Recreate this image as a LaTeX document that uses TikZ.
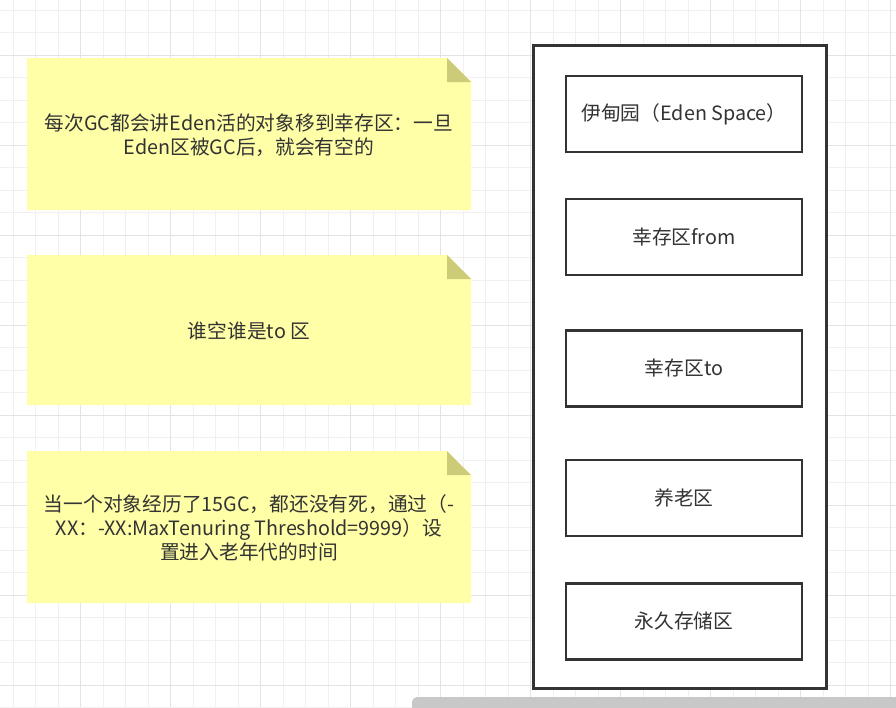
\documentclass[tikz,border=0pt]{standalone}
\usepackage{fontspec}
\newfontfamily\cjk{Noto Sans CJK SC}
\usetikzlibrary{positioning}

\definecolor{notefill}{HTML}{FFFFA8}
\definecolor{notefold}{HTML}{CCCC78}
\definecolor{gridminor}{HTML}{F0F0F0}
\definecolor{gridmajor}{HTML}{E3E3E3}
\definecolor{inkgray}{HTML}{333333}
\definecolor{scrollgray}{HTML}{C8C8C8}

\begin{document}
\begin{tikzpicture}[
    x=0.75pt, y=-0.75pt,
    every node/.style={font=\cjk\fontsize{14.8}{18}\selectfont, text=inkgray},
    notetext/.style={align=center, inner sep=0pt},
    heapbox/.style={
      draw=inkgray, fill=white, line width=2.25pt,
      minimum width=220pt, minimum height=482pt, inner sep=0pt
    },
    zonebox/.style={
      draw=inkgray, fill=white, line width=2.1pt,
      minimum width=177pt, minimum height=57pt, inner sep=0pt
    },
  ]

  %% ---- page and grid ----
  \clip (0,0) rectangle (896,707);
  \fill[white] (0,0) rectangle (896,707);
  \foreach \k in {0,...,39}
    \draw[gridminor, line width=0.75pt] (13+22.5*\k,0) -- (13+22.5*\k,707);
  \foreach \k in {0,...,31}
    \draw[gridminor, line width=0.75pt] (0,10+22.5*\k) -- (896,10+22.5*\k);
  \foreach \k in {0,...,9}
    \draw[gridmajor, line width=0.75pt] (80.5+90*\k,0) -- (80.5+90*\k,707);
  \foreach \k in {0,...,7}
    \draw[gridmajor, line width=0.75pt] (0,55+90*\k) -- (896,55+90*\k);

  %% ---- notes (paper with folded corner) ----
  \foreach \top/\bot in {58/210, 255/405, 451/603} {
    \fill[notefill] (27,\top) -- (447,\top) -- (471,\top+24)
      -- (471,\bot) -- (27,\bot) -- cycle;
    \fill[notefold] (447,\top) -- (471,\top+24) -- (447,\top+24) -- cycle;
  }

  \node[notetext] (gcnote) at (249,135)
    {每次GC都会讲Eden活的对象移到幸存区：一旦\\Eden区被GC后，就会有空的};
  \node[notetext] (tonote) at (249,331) {谁空谁是to 区};
  \node[notetext] (agenote) at (249,528)
    {当一个对象经历了15GC，都还没有死，通过（-\\
     XX：-XX:MaxTenuring Threshold=9999）设\\
     置进入老年代的时间};

  %% ---- heap container ----
  \node[heapbox] (heap) at (680,367) {};

  % zones inside the heap
  \node[zonebox] (eden) at (684,114)   {伊甸园（Eden Space）};
  \node[zonebox] (from) at (684,237)   {幸存区from};
  \node[zonebox] (to)   at (684,368.5) {幸存区to};
  \node[zonebox] (old)  at (684,498)   {养老区};
  \node[zonebox] (perm) at (684,621.5) {永久存储区};

  %% ---- scroll bar along the bottom ----
  \fill[scrollgray, rounded corners=3.75pt] (412,697) rectangle (910,717);

\end{tikzpicture}
\end{document}
